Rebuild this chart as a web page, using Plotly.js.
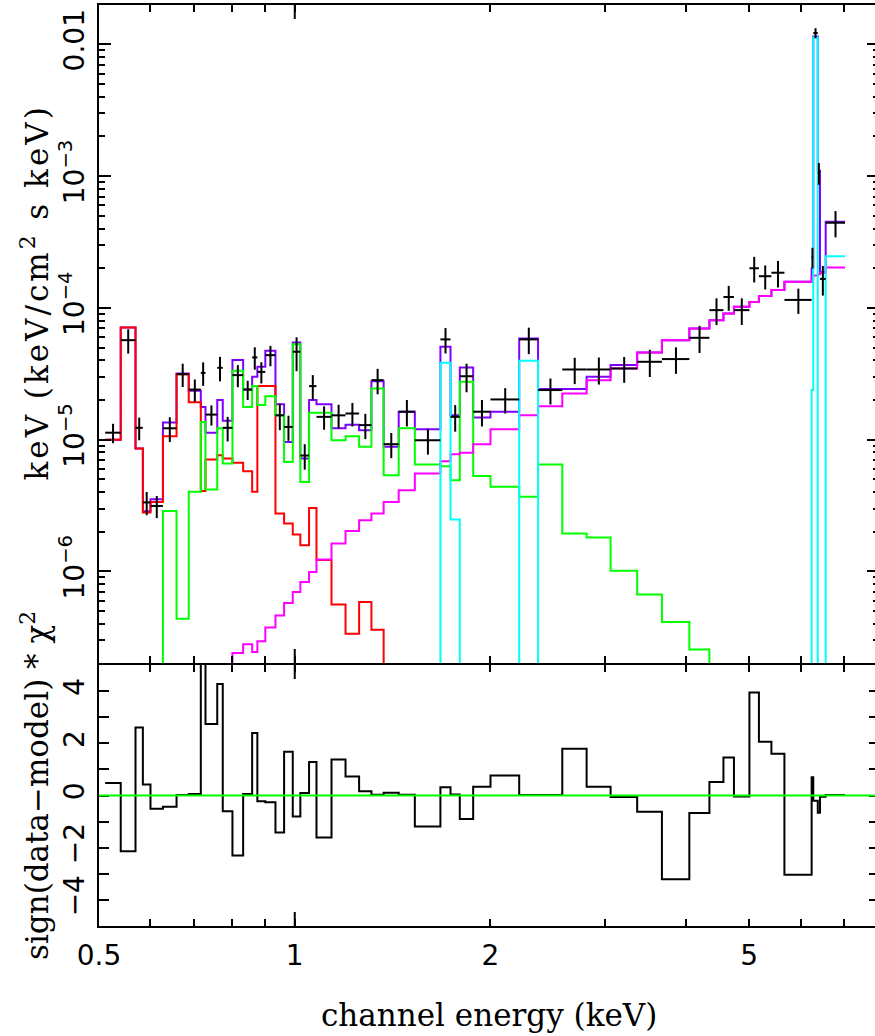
<!DOCTYPE html>
<html>
<head>
<meta charset="utf-8">
<script src="https://cdn.plot.ly/plotly-3.0.1.min.js"></script>
<style>
html, body { margin: 0; padding: 0; overflow: hidden; background: #ffffff; }
#plot { width: 880px; height: 1036px; }
g.annotation[data-index="1"] text { letter-spacing: 3px; }
</style>
</head>
<body>
<div id="plot"></div>
<script>
// ---- bin edges (keV) ----
const binEdges = [0.511,0.540,0.569,0.584,0.600,0.627,0.658,0.687,0.717,0.729,0.760,0.775,0.802,0.833,0.860,0.876,0.901,0.934,0.963,0.993,1.020,1.052,1.080,1.139,1.197,1.256,1.312,1.370,1.445,1.530,1.675,1.736,1.794,1.881,2.000,2.214,2.367,2.579,2.811,3.060,3.362,3.670,4.044,4.342,4.563,4.736,5.003,5.174,5.408,5.663,6.236,6.272,6.373,6.423,6.554,7.018];

// ---- data (keV^2 photons / cm^2 s keV) ----
const dataFlux = [1.13e-5,5.69e-5,1.23e-5,3.34e-6,3.14e-6,1.22e-5,3.14e-5,2.40e-5,3.21e-5,1.55e-5,
  3.51e-5,1.23e-5,3.09e-5,2.40e-5,4.21e-5,3.27e-5,4.38e-5,1.53e-5,1.25e-5,4.65e-5,
  7.58e-6,2.55e-5,1.49e-5,1.53e-5,1.58e-5,1.29e-5,2.83e-5,9.24e-6,1.63e-5,9.9e-6,
  5.77e-5,1.49e-5,3.03e-5,1.63e-5,2.02e-5,5.77e-5,2.38e-5,3.41e-5,3.41e-5,3.47e-5,
  3.90e-5,4.09e-5,5.93e-5,9.62e-5,1.21e-4,9.62e-5,2.0e-4,1.74e-4,1.85e-4,1.15e-4,
  2.43e-4,1.22e-2,1.06e-3,1.66e-4,4.43e-4];
const dataErr = [1.9e-6,1.19e-5,2.4e-6,6.7e-7,6.0e-7,2.6e-6,6.3e-6,4.6e-6,6.5e-6,2.7e-6,
  7.4e-6,2.6e-6,5.9e-6,4.0e-6,8.1e-6,6.0e-6,7.7e-6,3.5e-6,2.7e-6,1.34e-5,
  1.66e-6,5.4e-6,3.0e-6,3.1e-6,3.2e-6,2.8e-6,6.2e-6,2.0e-6,3.7e-6,2.2e-6,
  1.26e-5,3.4e-6,7.4e-6,3.7e-6,4.4e-6,1.31e-5,5.3e-6,7.7e-6,7.9e-6,7.7e-6,
  9.1e-6,9.3e-6,1.38e-5,2.2e-5,2.6e-5,2.2e-5,4.4e-5,3.6e-5,4.2e-5,2.5e-5,
  4.3e-5,1.07e-3,2.0e-4,4.2e-5,1.0e-4];

// ---- model: total and components ----
const modelTotal = [1.0e-5,7.11e-5,8.58e-6,2.86e-6,3.53e-6,1.35e-5,3.18e-5,2.35e-5,1.77e-5,1.13e-5,
  2.0e-5,1.39e-5,4.02e-5,2.40e-5,3.0e-5,3.57e-5,4.72e-5,1.86e-5,9.6e-6,5.47e-5,
  7.2e-6,2.0e-5,1.86e-5,1.22e-5,1.30e-5,1.18e-5,2.78e-5,8.82e-6,1.63e-5,1.20e-5,
  5.07e-5,1.53e-5,3.53e-5,1.47e-5,1.63e-5,5.87e-5,2.42e-5,2.42e-5,3.0e-5,3.68e-5,
  4.59e-5,5.69e-5,6.98e-5,8.07e-5,9.08e-5,1.02e-4,1.11e-4,1.23e-4,1.37e-4,1.58e-4,
  1.99e-4,1.15e-2,1.1e-3,1.87e-4,4.51e-4];
const compRed = [1.0e-5,7.11e-5,8.58e-6,2.80e-6,3.37e-6,1.06e-5,3.14e-5,1.92e-5,4.08e-6,7.07e-6,
  7.62e-6,7.19e-6,6.67e-6,5.77e-6,4.02e-6,2.55e-5,2.55e-5,2.75e-6,2.31e-6,1.91e-6,
  1.58e-6,3.03e-6,1.22e-6,5.61e-7,3.37e-7,5.86e-7,3.61e-7,1e-9,1e-9,1e-9,
  1e-9,1e-9,1e-9,1e-9,1e-9,1e-9,1e-9,1e-9,1e-9,1e-9,
  1e-9,1e-9,1e-9,1e-9,1e-9,1e-9,1e-9,1e-9,1e-9,1e-9,
  1e-9,1e-9,1e-9,1e-9,1e-9];
const compGreen = [1e-9,1e-9,1e-9,1e-9,1e-9,2.88e-6,4.37e-7,4.02e-6,1.36e-5,4.19e-6,
  1.22e-5,6.59e-6,3.33e-5,1.77e-5,2.55e-5,1.83e-5,2.14e-5,1.53e-5,6.78e-6,5.3e-5,
  4.78e-6,1.60e-5,1.60e-5,9.9e-6,1.06e-5,8.82e-6,2.45e-5,5.37e-6,1.22e-5,6.48e-6,
  6.29e-6,4.92e-6,2.75e-5,5.3e-6,4.39e-6,3.68e-6,6.48e-6,1.94e-6,1.81e-6,1.01e-6,
  6.68e-7,4.14e-7,2.55e-7,1e-9,1e-9,1e-9,1e-9,1e-9,1e-9,1e-9,
  1e-9,1e-9,1e-9,1e-9,1e-9];
const compMagenta = [1e-9,1e-9,1e-9,1e-9,1e-9,1e-9,1e-9,1e-9,1e-9,1e-9,
  1e-9,1e-9,2.40e-7,2.80e-7,2.45e-7,2.95e-7,3.75e-7,4.63e-7,5.77e-7,6.99e-7,
  8.32e-7,9.9e-7,1.23e-6,1.63e-6,2.03e-6,2.45e-6,2.75e-6,3.37e-6,4.14e-6,5.53e-6,
  6.87e-6,7.76e-6,7.94e-6,9.24e-6,1.20e-5,1.53e-5,1.79e-5,2.24e-5,2.83e-5,3.47e-5,
  4.59e-5,5.69e-5,6.98e-5,8.07e-5,9.08e-5,1.02e-4,1.11e-4,1.23e-4,1.37e-4,1.58e-4,
  1.72e-4,1.76e-4,1.80e-4,1.85e-4,2.03e-4];
const compCyan = [1e-9,1e-9,1e-9,1e-9,1e-9,1e-9,1e-9,1e-9,1e-9,1e-9,
  1e-9,1e-9,1e-9,1e-9,1e-9,1e-9,1e-9,1e-9,1e-9,1e-9,
  1e-9,1e-9,1e-9,1e-9,1e-9,1e-9,1e-9,1e-9,1e-9,1e-9,
  3.83e-5,2.48e-6,1e-9,1e-9,1e-9,3.97e-5,1e-9,1e-9,1e-9,1e-9,
  1e-9,1e-9,1e-9,1e-9,1e-9,1e-9,1e-9,1e-9,1e-9,1e-9,
  2.38e-5,1.13e-2,1e-9,1e-9,2.47e-4];

// ---- residuals: sign(data-model) * chi^2 ----
const residuals = [0.48,-2.14,2.61,0.42,-0.51,-0.43,0.02,0.06,6.2,2.74,
  4.27,-0.60,-2.30,0.06,2.39,-0.22,-0.26,-1.42,1.68,-0.80,
  0.10,1.28,-1.61,1.38,0.73,0.16,0.03,0.11,0.03,-1.19,
  0.32,0.04,-0.90,0.34,0.77,0.02,0.02,1.79,0.34,-0.06,
  -0.62,-3.21,-0.67,0.52,1.46,-0.04,3.95,2.06,1.60,-3.04,
  0.70,-0.20,-0.66,-0.05,0.02];

// ---- tick labels ----
const xTickVals = [0.5, 1, 2, 5];
const xTickText = ['0.5', '1', '2', '5'];
const xMinorVals = [0.6, 0.7, 0.8, 0.9, 3, 4, 6, 7];
const fluxTickVals = [1e-6, 1e-5, 1e-4, 1e-3, 1e-2];
const fluxTickText = ['10<sup>−6</sup>', '10<sup>−5</sup>', '10<sup>−4</sup>', '10<sup>−3</sup>', '0.01'];
const resTickVals = [-4, -2, 0, 2, 4];
const resTickText = ['−4', '−2', '0', '2', '4'];
const resMinorVals = [-5, -3, -1, 1, 3, 5];

// ---- build traces ----
function stepY(vals) { return vals.concat([vals[vals.length - 1]]); }
const centers = [], errPlus = [], errMinus = [];
for (let i = 0; i < binEdges.length - 1; i++) {
  const c = 0.5 * (binEdges[i] + binEdges[i + 1]);
  centers.push(c);
  errPlus.push(binEdges[i + 1] - c);
  errMinus.push(c - binEdges[i]);
}
function stepTrace(vals, color, xa, ya) {
  return { x: binEdges, y: stepY(vals), type: 'scatter', mode: 'lines',
    line: { shape: 'hv', color: color, width: 2 }, xaxis: xa, yaxis: ya, showlegend: false, hoverinfo: 'skip' };
}
const traces = [
  stepTrace(modelTotal, '#8000ff', 'x2', 'y2'),
  stepTrace(compRed, '#ff0000', 'x2', 'y2'),
  stepTrace(compGreen, '#00ff00', 'x2', 'y2'),
  stepTrace(compMagenta, '#ff00ff', 'x2', 'y2'),
  stepTrace(compCyan, '#00ffff', 'x2', 'y2'),
  { x: centers, y: dataFlux, type: 'scatter', mode: 'markers', xaxis: 'x2', yaxis: 'y2',
    marker: { size: 1, color: '#000000' }, showlegend: false, hoverinfo: 'skip',
    error_y: { type: 'data', array: dataErr, visible: true, color: '#000000', thickness: 2, width: 0 },
    error_x: { type: 'data', symmetric: false, array: errPlus, arrayminus: errMinus, visible: true, color: '#000000', thickness: 2, width: 0 } },
  stepTrace(residuals, '#000000', 'x', 'y')
];

// minor ticks for log flux axis
const fluxMinor = [];
for (let d = -7; d <= -2; d++) for (let k = 2; k <= 9; k++) fluxMinor.push(k * Math.pow(10, d));

const upperBottom = 263 / 921;
const lowerTop = 261 / 921;
const tickFont = { family: 'DejaVu Sans, sans-serif', size: 28, color: '#000000' };
const titleFont = { family: 'DejaVu Serif, serif', size: 31, color: '#000000' };
const xRange = [Math.log10(0.5), 0.8985];

const xCommon = {
  type: 'log', range: xRange, showgrid: false, zeroline: false,
  showline: true, linewidth: 2, linecolor: '#000000', mirror: 'allticks',
  ticks: 'inside', ticklen: 7, tickwidth: 2, tickcolor: '#000000',
  tickmode: 'array', tickvals: xTickVals, ticktext: xTickText, tickfont: tickFont, ticklabelstandoff: 3,
  minor: { tickmode: 'array', tickvals: xMinorVals, ticks: 'inside', ticklen: 7, tickwidth: 2, tickcolor: '#000000', showgrid: false },
  automargin: false
};

const longTick = (yanchor, dir) => ({ type: 'line', xref: 'x', x0: 1, x1: 1, yref: 'paper', ysizemode: 'pixel',
  yanchor: yanchor, y0: 0, y1: 14 * dir, line: { color: '#000000', width: 2 } });

const layout = {
  width: 880, height: 1036,
  margin: { l: 99, r: 1, t: 5, b: 110 },
  paper_bgcolor: '#ffffff', plot_bgcolor: '#ffffff',
  showlegend: false, hovermode: false,
  xaxis: Object.assign({}, xCommon, { anchor: 'y', domain: [0, 1] }),
  xaxis2: Object.assign({}, xCommon, { anchor: 'y2', domain: [0, 1], matches: 'x', showticklabels: false }),
  yaxis: {
    domain: [0, lowerTop], range: [-5, 5], showgrid: false, zeroline: false,
    showline: true, linewidth: 2, linecolor: '#000000', mirror: 'allticks',
    ticks: 'inside', ticklen: 10, tickwidth: 2, tickcolor: '#000000',
    tickmode: 'array', tickvals: resTickVals, ticktext: resTickText, tickangle: -90, tickfont: tickFont, ticklabelstandoff: 2,
    minor: { tickmode: 'array', tickvals: resMinorVals, ticks: 'inside', ticklen: 10, tickwidth: 2, tickcolor: '#000000', showgrid: false },
    automargin: false
  },
  yaxis2: {
    type: 'log', domain: [upperBottom, 1], range: [-6.695, -1.701], showgrid: false, zeroline: false,
    showline: true, linewidth: 2, linecolor: '#000000', mirror: 'allticks',
    ticks: 'inside', ticklen: 12, tickwidth: 2, tickcolor: '#000000',
    tickmode: 'array', tickvals: fluxTickVals, ticktext: fluxTickText, tickangle: -90, tickfont: tickFont, ticklabelstandoff: 2,
    minor: { tickmode: 'array', tickvals: fluxMinor, ticks: 'inside', ticklen: 6, tickwidth: 2, tickcolor: '#000000', showgrid: false },
    automargin: false
  },
  shapes: [
    { type: 'line', xref: 'paper', x0: 0, x1: 1, yref: 'y', y0: 0, y1: 0, line: { color: '#00ff00', width: 2 } },
    longTick(0, 1), longTick(lowerTop, -1), longTick(upperBottom, 1), longTick(1, -1)
  ],
  annotations: [
    { text: 'channel energy (keV)', xref: 'paper', yref: 'paper', x: 0.5, y: (926 - 1015) / 921,
      xanchor: 'center', yanchor: 'middle', showarrow: false, font: titleFont },
    { text: 'keV (keV/cm<sup>2</sup> s keV)', xref: 'paper', yref: 'paper', x: (35 - 99) / 780, y: (926 - 293) / 921,
      xanchor: 'center', yanchor: 'middle', textangle: -90, showarrow: false, font: titleFont },
    { text: 'sign(data−model) * χ<sup>2</sup>', xref: 'paper', yref: 'paper', x: (35 - 99) / 780, y: (926 - 786) / 921,
      xanchor: 'center', yanchor: 'middle', textangle: -90, showarrow: false, font: titleFont }
  ]
};

Plotly.newPlot('plot', traces, layout, { staticPlot: true, displayModeBar: false });
</script>
</body>
</html>
